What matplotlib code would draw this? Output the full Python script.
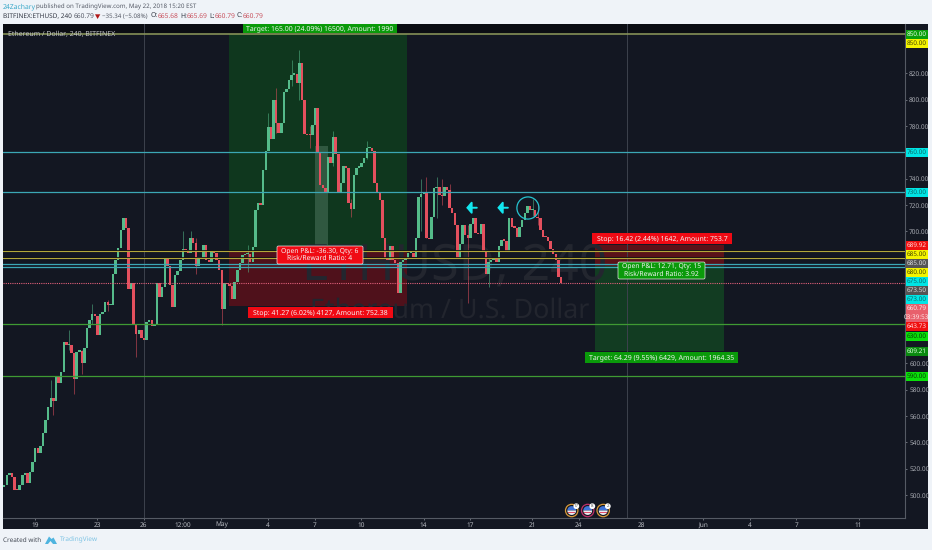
import numpy as np
import matplotlib
matplotlib.use("Agg")
import matplotlib.pyplot as plt
from matplotlib.patches import Rectangle, FancyBboxPatch, Circle, Polygon, Wedge, Ellipse

plt.rcParams['font.family'] = ['Noto Sans', 'DejaVu Sans']
plt.rcParams['text.hinting'] = 'none'

# ---------- data ----------
closes = [508,515,516.5,514,504,503.5,507.7,515,516.5,509.5,517.8,525.4,536,532,537,547.4,557,567,573.4,571,
590.4,585,593,616,613.5,614,608,588,608.8,609,600,611.8,626.5,633,637,636,621.4,637,639,646.7,644,644,
667.7,678.3,687.7,701,710,702.8,656,660.6,629.5,622,625,619,618,631,632.8,628,630,660.6,650,658,679.6,673.8,659,643,
667,670,678,686.6,686,684,695,691,673.8,680.8,679,689.7,678,677,685.4,683.4,678.3,670.7,640.9,660.6,660,658.6,649,
662,671,675.8,682,682.8,683,677,688.4,716,721.8,720,746.6,761,779,769.8,800,782.5,774.5,782,805.5,808,815,819,819.5,812.8,
827.5,799.7,773.6,773.2,773,780.7,793.9,759.2,735,732.7,729,756.7,752,771.4,759,729,736.5,749.6,747.9,721.3,716.8,742.8,748.4,749,
751.6,755.4,763,763,761,736.5,730,723.8,694.8,678.8,678.3,689,678.3,675.8,653,677,678.5,679.6,683.4,683.5,680.3,694.8,726.4,728.4,
729.4,694.8,694.5,711,732.7,733.5,727.6,727,734,731.4,717.5,713.7,704.9,678.8,690.5,704.9,697.3,694.8,706,710,698.5,698,706,
684.6,668,677,678,679.6,677,689,693.5,693,684.6,710,703.6,703,696,703.6,708.7,713.7,719.3,716.3,716.5,711,710,701,696,695.5,
693,687,683,678,665.7,660.79]
wick_bars  = [18,19,25,27,30,34,40,51,69,72,74,84,94,102,105,111,114,118,127,134,140,161,163,167,169,172,179,187,204,206]
wick_highs = [587,573,625,608,610,645,648,625,700,700,695,670,690,790,808.6,830,837.6,780,776,725,769,740,741.5,741.5,740,736,705,680,725,721]
wick_lows  = [573,561,610,577,592,630,640,605,680,690,668,629,669,770,775,810,800,763,750,711,755,700,695,710,720,725,645.4,658,712,705]

tick_days   = [0,4,7,9.5,12,15,18,21,25,28,32,35,39,43,46,49,53]
tick_labels = ['19','23','26','12:00','May','4','7','10','14','17','21','24','28','Jun','4','7','11']
bold_ticks  = {'May','Jun'}
price_ticks = [820,800,780,740,720,700,600,580,560,540,520,500]

hline_yellow = [685,680]
hline_cyan   = [760,730,675,673]
hline_green  = [630,590]
last_price   = 660.79

# label text, bg colour, fg colour, pixel row on the price scale
price_tags = [('850.00','#0aa00a','#e8ffe8',34),('850.00','#f4f400','#444400',43.5),('760.00','#00e5e5','#0a6a6a',152.5),
 ('730.00','#00e5e5','#0a6a6a',192),('689.92','#f01010','#ffdddd',245),('685.00','#f4f400','#444400',254.5),
 ('685.00','#555555','#dddddd',263),('680.00','#f4f400','#444400',272),('675.00','#00e5e5','#0a6a6a',281),
 ('673.50','#555555','#dddddd',290),('673.00','#00e5e5','#0a6a6a',299),('660.79','#e8606c','#ffe8e8',308),
 ('03:39:53','#e8606c','#ffe8e8',317),('643.73','#f01010','#ffdddd',326),('630.00','#0ae00a','#064006',336),
 ('609.21','#0a8a10','#d8ffd8',351),('590.00','#0ae00a','#064006',376)]

# ---------- layout ----------
W, H = 932, 550
PAGE, BG = '#eff3f8', '#131722'
UP, DOWN = '#55bb8a', '#e4505e'
fig = plt.figure(figsize=(W/100, H/100), dpi=100, facecolor=PAGE)

L, R, T, B = 3, 905, 24, 517.5
ax = fig.add_axes([L/W, 1-B/H, (R-L)/W, (B-T)/H], facecolor=BG, zorder=2)
px_per_day, day0_px = 15.54, 35
px_per_price, p820_px = 1.318, 73.3
ax.set_xlim((L-day0_px)/px_per_day, (R-day0_px)/px_per_day)
ax.set_ylim(820-(B-p820_px)/px_per_price, 820-(T-p820_px)/px_per_price)

# chrome below
bgax = fig.add_axes([0,0,1,1], zorder=1); bgax.set_xlim(0,W); bgax.set_ylim(H,0); bgax.axis('off')
bgax.add_patch(Rectangle((3,24),925,505,fc=BG,ec='none'))
# chrome above
top = fig.add_axes([0,0,1,1], zorder=3); top.set_xlim(0,W); top.set_ylim(H,0); top.axis('off')
top.patch.set_alpha(0)

# ---------- main axes ----------
ax.axhspan(851.5, 860, color='#0b0d13', zorder=0)
for d in (7, 38.1):
    ax.axvline(d, color='#3d424d', lw=0.7, zorder=1)

# positions
ax.add_patch(Rectangle((12.48,685),11.46,165,fc='#0f371e',ec='none',zorder=0.5))
ax.add_patch(Rectangle((12.48,643.73),11.46,41.27,fc='#4f111b',ec='none',zorder=0.5))
ax.add_patch(Rectangle((36.04,609.21),8.3,64.29,fc='#123c22',ec='none',zorder=0.5))
ax.add_patch(Rectangle((36.04,673.5),8.3,16.42,fc='#5a1219',ec='none',zorder=0.5))
ax.add_patch(Rectangle((18.0,690),0.84,75,fc='#7fa58f',ec='none',alpha=0.3,zorder=0.8))

# watermark
ax.text(27.0, 673, 'ETHUSD, 240', color='#23262f', fontsize=36, ha='center', va='center', zorder=0.9, fontweight='bold')
ax.text(26.7, 640, 'Ethereum / U.S. Dollar', color='#22252e', fontsize=19.3, ha='center', va='center', zorder=0.9)

# candles
c = np.array(closes, float)
o = np.r_[c[0]-2, c[:-1]]
days = (np.arange(len(c)) - (len(c)-1))/6 + 33.85
cols = [UP if a >= b else DOWN for a, b in zip(c, o)]
ax.bar(days, np.maximum(np.abs(c-o), 0.9), bottom=np.minimum(c, o), width=0.158, color=cols, zorder=4, lw=0)
for i, hi, lo in zip(wick_bars, wick_highs, wick_lows):
    ax.vlines(days[i], lo, hi, color=cols[i], lw=0.5, alpha=0.75, zorder=3.5)

# horizontal levels
for v in hline_yellow:
    ax.axhline(v+0.6, color='#0b0d13', lw=0.6, zorder=4.4)
    ax.axhline(v, color='#b3a83a', lw=0.8, zorder=4.5)
for v in hline_cyan:
    ax.axhline(v, color='#3ba7b5', lw=0.9, zorder=4.5)
for v in hline_green:
    ax.axhline(v, color='#3f9a33', lw=0.9, zorder=4.5)
ax.axhline(850, color='#8e9a5a', lw=1.1, zorder=4.5)
ax.axhline(last_price, color='#e0607a', lw=0.8, ls=(0,(1,1)), zorder=4.6)

# annotations
ax.add_patch(Ellipse((31.72, 717.8), 1.42, 16.8, fc='none', ec='#26c3cf', lw=0.9, zorder=5))
for d in (28.1, 30.1):
    ax.annotate('', xy=(d-0.35, 718), xytext=(d+0.33, 718),
                arrowprops=dict(arrowstyle='-|>,head_width=0.36,head_length=0.3', color='#12e6ee', lw=1.4,
                                shrinkA=0, shrinkB=0), zorder=5)

# axes dressing
for s in ('left','top'):
    ax.spines[s].set_visible(False)
for s in ('right','bottom'):
    ax.spines[s].set_color('#555a64'); ax.spines[s].set_linewidth(0.8)
ax.yaxis.tick_right()
ax.set_yticks(price_ticks, [f'{v:.2f}' for v in price_ticks])
ax.tick_params(axis='y', colors='#8f939c', labelcolor='#a8abb2', labelsize=4.7, length=1.5, width=0.5, pad=1.5)
ax.set_xticks(tick_days, tick_labels)
ax.tick_params(axis='x', colors='#8f939c', labelcolor='#b8bbc2', labelsize=4.7, length=1.5, width=0.5, pad=1.5)
for t in ax.get_xticklabels():
    if t.get_text() in bold_ticks:
        t.set_fontweight('bold')

# ---------- labels on top ----------
def tag(x0, x1, y0, y1, bg, txt, rounded=False):
    if rounded:
        top.add_patch(FancyBboxPatch((x0+1,y0+1),x1-x0-2,y1-y0-2,boxstyle='round,pad=1,rounding_size=1.5',fc=bg,ec='#e8e8e8',lw=0.5))
        lines = txt.split('\n')
        ym = (y0+y1)/2
        top.text((x0+x1)/2,ym-3.6,lines[0],color='#f4f4f4',fontsize=4.9,ha='center',va='center')
        top.text((x0+x1)/2,ym+3.6,lines[1],color='#f4f4f4',fontsize=4.9,ha='center',va='center')
    else:
        top.add_patch(Rectangle((x0,y0),x1-x0,y1-y0,fc=bg,ec='none'))
        top.text((x0+x1)/2,(y0+y1)/2,txt,color='#f4f4f4',fontsize=5.0,ha='center',va='center')

tag(243,397,24,32.5,'#0a9a0a','Target: 165.00 (24.09%) 16500, Amount: 1990')
tag(248,393,306.5,318,'#f00a14','Stop: 41.27 (6.02%) 4127, Amount: 752.38')
tag(277,363,246,264,'#f00a14','Open P&L: -36.30, Qty: 6\nRisk/Reward Ratio: 4',True)
tag(592,732,233,243.5,'#f00a14','Stop: 16.42 (2.44%) 1642, Amount: 753.7')
tag(618,705,262,279,'#0a9a0a','Open P&L: 12.71, Qty: 15\nRisk/Reward Ratio: 3.92',True)
tag(585,738,352,363,'#0a9a0a','Target: 64.29 (9.55%) 6429, Amount: 1964.35')

for txt, bg, fg, y in price_tags:
    top.add_patch(Rectangle((905.5,y-4.5),22.5,9,fc=bg,ec='none'))
    top.text(916.7,y,txt,color=fg,fontsize=4.6,ha='center',va='center')

top.text(8,34,'Ethereum / Dollar, 240, BITFINEX',color='#c4c6ca',fontsize=5.0,ha='left',va='center')

# event icons
for x, ring, n in ((571.7,'#d99a3a','17'),(587.7,'#c0306a','8'),(603.2,'#d99a3a','2')):
    top.add_patch(Circle((x,510.5),6.2,fc='#14181f',ec=ring,lw=0.9))
    top.add_patch(Wedge((x,510.5),4.4,180,360,fc='#3f74d8',ec='none'))
    top.add_patch(Wedge((x,510.5),4.4,0,180,fc='#ececf2',ec='none'))
    top.add_patch(Rectangle((x-3.5,511.5),7,1.3,fc='#e2506a',ec='none'))
    top.add_patch(Circle((x+4.6,506.2),2.9,fc='white',ec='none'))
    top.text(x+4.6,506.2,n,color='#555555',fontsize=3.2,ha='center',va='center')

# header
def hdr(x, y, s, col='#555a66', w='normal', size=4.8):
    top.text(x,y,s,color=col,fontsize=size,fontweight=w,ha='left',va='center')
hdr(3,6.5,'24Zachary','#3ba9c9',size=4.9)
hdr(36,6.5,'published on TradingView.com, May 22, 2018 15:20 EST',size=4.45)
hdr(3,16.5,'BITFINEX:ETHUSD, 240','#333844','bold',size=4.65)
hdr(74,16.5,'660.79')
top.add_patch(Polygon([(95,14.3),(100.3,14.3),(97.6,19)],fc='#b01818',ec='none'))
hdr(102,16.5,'\u221235.34 (\u22125.08%)',size=4.45)
RED = '#c8505c'
for x, lab, xv, val in ((151,'O:',158,'665.68'),(180,'H:',187,'665.69'),(209,'L:',215,'660.79'),(237,'C:',243,'660.79')):
    hdr(x,16.5,lab,'#333844','bold',size=4.9)
    hdr(xv,16.5,val,RED)

# footer
hdr(3,540,'Created with','#444a55',size=4.6)
top.add_patch(Polygon([(45,544),(49,536.5),(51.5,539),(53.5,537.5),(57,544)],fc='#4fb4df',ec='none'))
top.add_patch(Polygon([(48,544),(50.5,541),(53,544)],fc='#eff3f8',ec='none'))
hdr(60,540,'TradingView','#7fc4e4',size=4.7)

fig.savefig('out.png', dpi=100, facecolor=PAGE)
